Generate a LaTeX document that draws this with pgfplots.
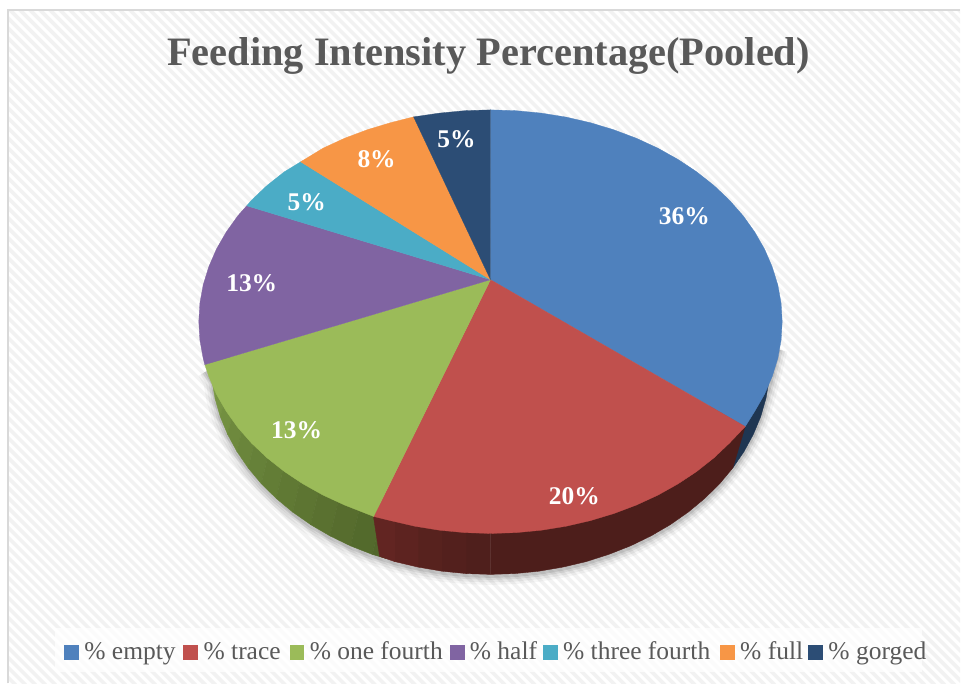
\documentclass[border=0pt]{standalone}
\usepackage{pgfplots}
\usepackage{pgfplotstable}
\usepackage{fontspec}
\setmainfont{Liberation Serif}
\pgfplotsset{compat=1.18}
\definecolor{cEmpty}{HTML}{4F81BD}
\definecolor{cTrace}{HTML}{C0504D}
\definecolor{cOne}{HTML}{9BBB59}
\definecolor{cHalf}{HTML}{8064A2}
\definecolor{cThree}{HTML}{4BACC6}
\definecolor{cFull}{HTML}{F79646}
\definecolor{cGorged}{HTML}{2C4D75}
\definecolor{gL}{HTML}{7C9B47}
\definecolor{gD}{HTML}{4F6429}
\definecolor{rL}{HTML}{622522}
\definecolor{rD}{HTML}{4D1E1B}
\definecolor{txt}{HTML}{595959}
\pgfplotstableread{
x y
205 372
211.1 382.6
214.3 401
219.5 419.1
226.9 436.8
236.2 454
247.5 470.5
260.6 486.2
275.5 500.9
292 514.6
310 527.2
329.4 538.5
350 548.5
371.7 557
394.2 564.2
417.5 569.7
441.4 573.8
465.6 576.2
490 577
514.4 576.2
538.6 573.8
562.5 569.7
585.8 564.2
608.3 557
630 548.5
650.6 538.5
670 527.2
688 514.6
704.5 500.9
719.4 486.2
732.5 470.5
743.8 454
753.1 436.8
760.5 419.1
765.7 401
771 382
779 350
}\shadowarc
\pgfplotsset{side/.style={fill=#1,draw=#1,line width=0.4pt,forget plot}}
\tikzset{
  lab/.style={text=white,font=\fontsize{25.5}{25.5}\selectfont\bfseries,inner sep=0pt},
}
\newcommand{\lgd}[2]{\makebox[#1pt][l]{#2}}
\begin{document}
\begin{tikzpicture}[x=1pt,y=1pt]
% page background
\path[fill=white] (0,0) rectangle (961,684);
\begin{scope}
\clip (8,0) rectangle (961,674);
\foreach \k in {-70,...,170}{
  \draw[line width=3.6pt,color=black!5] ({\k*10},684) -- ({\k*10+700},-16);
}
\end{scope}
\fill[white,opacity=0.75] (55,11) rectangle (923,55);
\draw[color=black!15,line width=2pt] (8,0) -- (8,674) -- (961,674);
\begin{axis}[
  at={(0,0)},anchor=south west,
  scale only axis,width=961pt,height=684pt,
  xmin=-1,xmax=960,ymin=0,ymax=684,
  y dir=reverse,hide axis,
  legend columns=7,
  legend style={at={(axis description cs:0.0666,0.0462)},anchor=west,draw=none,fill=none,inner sep=0pt,
    nodes={inner sep=0pt,anchor=west},
    font=\fontsize{25.5}{26}\selectfont\color{txt},
    /tikz/every odd column/.append style={column sep=6pt}},
  legend image code/.code={\fill[#1] (0pt,-7pt) rectangle (14pt,7pt);},
]
% soft shadow under the pie
\addplot[draw=black,opacity=0.035,line width=17pt,forget plot] table {\shadowarc};
\addplot[draw=black,opacity=0.05,line width=12pt,forget plot] table {\shadowarc};
\addplot[draw=black,opacity=0.07,line width=7pt,forget plot] table {\shadowarc};
\addplot[draw=black,opacity=0.09,line width=3pt,forget plot] table {\shadowarc};
% side: gorged sliver
\addplot[side=cGorged!70!black] coordinates {(700,380)(768.9,380.6)(765.7,399)(760.5,417.1)(753.1,434.8)(743.8,452)(732.5,468.5)} -- cycle;
% side: one fourth
\addplot[side=gL!100!gD] coordinates {(225,320)(207,370)(211.1,380.6)(214.3,399)(226.3,349)} -- cycle;
\addplot[side=gL!88!gD] coordinates {(226.3,349)(214.3,399)(219.5,417.1)(231.5,367.1)} -- cycle;
\addplot[side=gL!78!gD] coordinates {(231.5,367.1)(219.5,417.1)(226.9,434.8)(238.9,384.8)} -- cycle;
\addplot[side=gL!68!gD] coordinates {(238.9,384.8)(226.9,434.8)(236.2,452)(248.2,402)} -- cycle;
\addplot[side=gL!60!gD] coordinates {(248.2,402)(236.2,452)(247.5,468.5)(259.5,418.5)} -- cycle;
\addplot[side=gL!52!gD] coordinates {(259.5,418.5)(247.5,468.5)(260.6,484.2)(272.6,434.2)} -- cycle;
\addplot[side=gL!45!gD] coordinates {(272.6,434.2)(260.6,484.2)(275.5,498.9)(287.5,448.9)} -- cycle;
\addplot[side=gL!38!gD] coordinates {(287.5,448.9)(275.5,498.9)(292,512.6)(304,462.6)} -- cycle;
\addplot[side=gL!31!gD] coordinates {(304,462.6)(292,512.6)(310,525.2)(322,475.2)} -- cycle;
\addplot[side=gL!24!gD] coordinates {(322,475.2)(310,525.2)(329.4,536.5)(341.4,486.5)} -- cycle;
\addplot[side=gL!17!gD] coordinates {(341.4,486.5)(329.4,536.5)(350,546.5)(362,496.5)} -- cycle;
\addplot[side=gL!10!gD] coordinates {(362,496.5)(350,546.5)(371.7,555)(383.7,505)} -- cycle;
\addplot[side=gL!4!gD] coordinates {(383.7,505)(371.7,555)(385,559)(395,505)} -- cycle;
% side: trace
\addplot[side=rD] coordinates {(500,400)(745,427)(732.5,468.5)(719.4,484.2)(704.5,498.9)(688,512.6)(670,525.2)(650.6,536.5)(630,546.5)(608.3,555)(585.8,562.2)(562.5,567.7)(538.6,571.8)(514.4,574.2)(490,575)(490,500)} -- cycle;
\addplot[side=rL!10!rD] coordinates {(490,500)(490,575)(465.6,574.2)(465.6,500)} -- cycle;
\addplot[side=rL!30!rD] coordinates {(465.6,500)(465.6,574.2)(441.4,571.8)(441.4,500)} -- cycle;
\addplot[side=rL!50!rD] coordinates {(441.4,500)(441.4,571.8)(417.5,567.7)(417.5,500)} -- cycle;
\addplot[side=rL!75!rD] coordinates {(417.5,500)(417.5,567.7)(394.2,562.2)(394.2,500)} -- cycle;
\addplot[side=rL] coordinates {(394.2,500)(394.2,562.2)(379,557)(373,518)} -- cycle;
% top faces
\addplot[fill=cEmpty,draw=cEmpty,line width=0.3pt] coordinates {(490,280)(490,110)(515.5,110.8)(540.7,113.2)(565.6,117.2)(589.9,122.8)(613.4,129.9)(636,138.4)(657.5,148.3)(677.7,159.6)(696.5,172.1)(713.7,185.7)(729.2,200.4)(742.9,216)(754.6,232.4)(764.4,249.5)(772,267.1)(777.6,285.2)(780.9,303.5)(782,322)(780.9,340.5)(777.6,358.8)(772,376.9)(764.4,394.5)(754.6,411.6)(745,427)} -- cycle;
\addlegendentry{\lgd{99}{\% empty}}
\addplot[fill=cTrace,draw=cTrace,line width=0.3pt] coordinates {(490,280)(745,427)(729.2,443.6)(713.7,458.3)(696.5,471.9)(677.7,484.4)(657.5,495.7)(636,505.6)(613.4,514.1)(589.9,521.2)(565.6,526.8)(540.7,530.8)(515.5,533.2)(490,534)(464.5,533.2)(439.3,530.8)(414.4,526.8)(390.1,521.2)(373,517)} -- cycle;
\addlegendentry{\lgd{86}{\% trace}}
\addplot[fill=cOne,draw=cOne,line width=0.3pt] coordinates {(490,280)(373,517)(344,505.6)(322.5,495.7)(302.3,484.4)(283.5,471.9)(266.3,458.3)(250.8,443.6)(237.1,428)(225.4,411.6)(215.6,394.5)(208,376.9)(204,365)} -- cycle;
\addlegendentry{\lgd{140}{\% one fourth}}
\addplot[fill=cHalf,draw=cHalf,line width=0.3pt] coordinates {(490,280)(204,365)(202.4,358.8)(199.1,340.5)(198,322)(199.1,303.5)(202.4,285.2)(208,267.1)(215.6,249.5)(225.4,232.4)(237.1,216)(246,206)} -- cycle;
\addlegendentry{\lgd{73}{\% half}}
\addplot[fill=cThree,draw=cThree,line width=0.3pt] coordinates {(490,280)(246,206)(250.8,200.4)(266.3,185.7)(283.5,172.1)(300,162)} -- cycle;
\addlegendentry{\lgd{157}{\% three fourth}}
\addplot[fill=cFull,draw=cFull,line width=0.3pt] coordinates {(490,280)(300,162)(322.5,148.3)(344,138.4)(366.6,129.9)(390.1,122.8)(413,117)} -- cycle;
\addlegendentry{\lgd{68}{\% full}}
\addplot[fill=cGorged,draw=cGorged,line width=0.3pt] coordinates {(490,280)(413,117)(439.3,113.2)(464.5,110.8)(490,110)} -- cycle;
\addlegendentry{\lgd{97}{\% gorged}}
% data labels
\node[lab] at (axis cs:684,216.5) {36\%};
\node[lab] at (axis cs:574,497) {20\%};
\node[lab] at (axis cs:296,430.5) {13\%};
\node[lab] at (axis cs:251,283) {13\%};
\node[lab] at (axis cs:306,202) {5\%};
\node[lab] at (axis cs:376,159.5) {8\%};
\node[lab] at (axis cs:456,139.5) {5\%};
% title
\node[text=txt,font=\fontsize{40.4}{40.4}\selectfont\bfseries,inner sep=0pt] at (axis cs:488,56) {Feeding Intensity Percentage(Pooled)};
\end{axis}
\end{tikzpicture}
\end{document}
